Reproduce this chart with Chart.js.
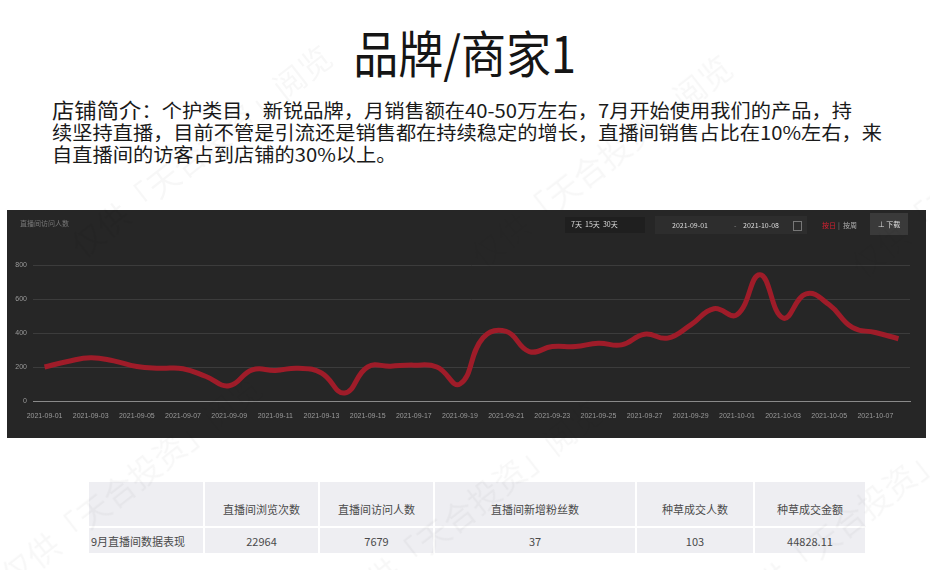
<!DOCTYPE html>
<html>
<head>
<meta charset="utf-8">
<script src="https://cdn.jsdelivr.net/npm/chart.js@4/dist/chart.umd.min.js"></script>
<style>
  html, body { margin: 0; padding: 0; background: #fff; }
  body { width: 930px; height: 570px; position: relative; overflow: hidden;
         font-family: "Noto Sans CJK SC", "Noto Sans", sans-serif; }
  #title { position: absolute; left: 0; width: 930px; top: 16px; text-align: center;
           font-size: 50px; color: #151515; line-height: 70px; }
  #title span { display: inline-block; transform: scaleX(0.9); }
  #intro { position: absolute; left: 52px; top: 98px; font-size: 19px; line-height: 22px;
           color: #1a1a1a; white-space: pre; transform-origin: 0 0; }
  #intro b { font-weight: normal; font-size: 21px; }
  #panel { position: absolute; left: 7px; top: 210px; width: 919px; height: 228px; background: #262626; }
  #trend { position: absolute; left: 0; top: 0; }
  .ctl { position: absolute; font-size: 7px; color: #bbb; line-height: 14px; }
  #wm span { position: absolute; font-size: 32px; color: rgba(0,0,0,0.03); transform: rotate(-38deg);
             white-space: nowrap; transform-origin: 0 0; }
  table { position: absolute; left: 87px; top: 480px; border-collapse: collapse; font-size: 11px; color: #4a4a4a; }
  td { background: #eeeef2; border: 2px solid #fff; text-align: center; padding: 0; }
  tr.h td { height: 46px; padding-top: 10px; box-sizing: border-box; }
  tr.d td { height: 25px; }
  td.first { text-align: left; padding-left: 2px; }
</style>
</head>
<body>
<div id="title"><span>品牌/商家1</span></div>
<div id="intro"><b>店铺简介</b>：个护类目，新锐品牌，月销售额在40-50万左右，7月开始使用我们的产品，持
续坚持直播，目前不管是引流还是销售都在持续稳定的增长，直播间销售占比在10%左右，来
自直播间的访客占到店铺的30%以上。</div>

<div id="panel">
  <canvas id="trend" width="919" height="228"></canvas>
  <div class="ctl" style="left:13px;top:6px;color:#777">直播间访问人数</div>
  <div class="ctl" style="left:558px;top:7px;width:80px;height:16px;background:#1f1f1f;padding-left:6px;box-sizing:border-box;color:#ddd">7天&nbsp;&nbsp;15天&nbsp;&nbsp;30天</div>
  <div class="ctl" style="left:648px;top:6px;width:152px;height:18px;background:#2d2d2d;"></div>
  <div class="ctl" style="left:665px;top:8px;color:#ddd">2021-09-01</div>
  <div class="ctl" style="left:727px;top:8px;color:#888">-</div>
  <div class="ctl" style="left:736px;top:8px;color:#ddd">2021-10-08</div>
  <div class="ctl" style="left:786px;top:11px;width:7px;height:8px;border:1px solid #777"></div>
  <div class="ctl" style="left:815px;top:8px;color:#d22030">按日</div>
  <div class="ctl" style="left:831px;top:8px;color:#888">|</div>
  <div class="ctl" style="left:836px;top:8px;color:#aaa">按周</div>
  <div class="ctl" style="left:863px;top:3px;width:38px;height:22px;background:#3a3a3a;text-align:center;line-height:22px;color:#ddd">⊥ 下载</div>
</div>

<table id="stats"></table>

<div id="wm"></div>

<script>
// 日期（横轴）
var dates = [
  "2021-09-01", "2021-09-02", "2021-09-03", "2021-09-04", "2021-09-05", "2021-09-06",
  "2021-09-07", "2021-09-08", "2021-09-09", "2021-09-10", "2021-09-11", "2021-09-12",
  "2021-09-13", "2021-09-14", "2021-09-15", "2021-09-16", "2021-09-17", "2021-09-18",
  "2021-09-19", "2021-09-20", "2021-09-21", "2021-09-22", "2021-09-23", "2021-09-24",
  "2021-09-25", "2021-09-26", "2021-09-27", "2021-09-28", "2021-09-29", "2021-09-30",
  "2021-10-01", "2021-10-02", "2021-10-03", "2021-10-04", "2021-10-05", "2021-10-06",
  "2021-10-07", "2021-10-08"
];
// 直播间访问人数
var visitors = [
  200, 232, 255, 236, 203, 193, 190, 144, 90, 183, 180, 193, 165, 47, 200, 205, 211, 200,
  100, 372, 409, 291, 320, 320, 340, 330, 393, 370, 448, 543, 507, 743, 488, 630, 566, 433,
  403, 366
];
var yTicks = [0, 200, 400, 600, 800];

// 表格
var tableHeads = ["", "直播间浏览次数", "直播间访问人数", "直播间新增粉丝数", "种草成交人数", "种草成交金额"];
var tableRow = ["9月直播间数据表现", "22964", "7679", "37", "103", "44828.11"];
var colWidths = [116, 115, 115, 202, 118, 112];

var watermarks = [
  [-10, 560, "仅供「天合投资」阅览"], [330, 585, "仅供「天合投资」阅览"],
  [720, 590, "仅供「天合投资」"], [60, 230, "仅供「天合投资」阅览"],
  [460, 240, "仅供「天合投资」阅览"], [840, 250, "仅供「天合"]
];

function buildTable() {
  var t = document.getElementById("stats");
  var h = "<tr class='h'>";
  for (var i = 0; i < tableHeads.length; i++) {
    h += "<td style='width:" + colWidths[i] + "px'>" + tableHeads[i] + "</td>";
  }
  h += "</tr><tr class='d'>";
  for (var j = 0; j < tableRow.length; j++) {
    h += "<td" + (j === 0 ? " class='first'" : "") + ">" + tableRow[j] + "</td>";
  }
  h += "</tr>";
  t.innerHTML = h;
}

function buildWatermarks() {
  var w = document.getElementById("wm");
  for (var i = 0; i < watermarks.length; i++) {
    var s = document.createElement("span");
    s.style.left = watermarks[i][0] + "px";
    s.style.top = watermarks[i][1] + "px";
    s.textContent = watermarks[i][2];
    w.appendChild(s);
  }
}

function fitIntro() {
  var el = document.getElementById("intro");
  var w = el.getBoundingClientRect().width;
  el.style.transform = "scaleX(" + (830 / w) + ")";
}

buildTable();
buildWatermarks();
fitIntro();

var ctx = document.getElementById("trend").getContext("2d");
window.myLine = new Chart(ctx, {
  type: "line",
  data: {
    labels: dates,
    datasets: [
      {
        label: "直播间访问人数",
        data: visitors,
        borderColor: "#9f1c29",
        borderWidth: 5,
        pointRadius: 0,
        tension: 0.45,
        fill: false,
      },
    ],
  },
  options: {
    responsive: false,
    animation: false,
    layout: { padding: { top: 55, right: 16, left: 0, bottom: 0 } },
    plugins: { legend: { display: false }, tooltip: { enabled: false } },
    scales: {
      x: {
        offset: true,
        grid: { display: false },
        border: { color: "#8a8a8a", width: 1 },
        afterFit: function (scale) { scale.height = 37; },
        ticks: {
          autoSkip: false,
          maxRotation: 0,
          color: "#9a9a9a",
          font: { size: 7 },
          padding: 3,
          callback: function (val, idx) {
            return idx % 2 === 0 ? dates[idx] : "";
          },
        },
      },
      y: {
        min: 0,
        max: 800,
        afterFit: function (scale) { scale.width = 26; },
        afterBuildTicks: function (scale) {
          scale.ticks = yTicks.map(function (v) { return { value: v }; });
        },
        grid: { color: "#3c3c3c", drawTicks: false },
        border: { display: false },
        ticks: { color: "#9a9a9a", font: { size: 7 }, padding: 6 },
      },
    },
  },
});
</script>
</body>
</html>
